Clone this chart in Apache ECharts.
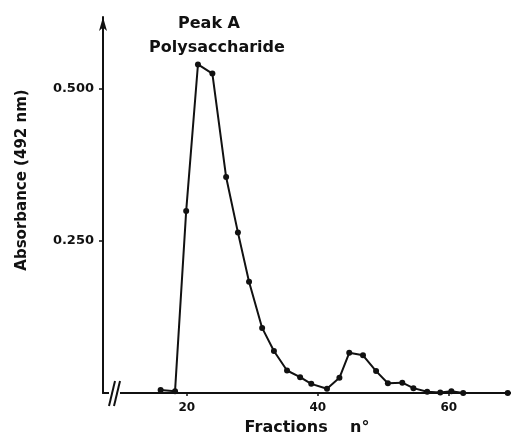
<!DOCTYPE html>
<html>
<head>
<meta charset="utf-8">
<script src="https://cdn.jsdelivr.net/npm/echarts@6/dist/echarts.min.js"></script>
<style>
  html, body { margin: 0; padding: 0; background: #fff; }
  #chart { width: 511px; height: 444px; }
</style>
</head>
<body>
<div id="chart"></div>
<script>
// fraction number and absorbance at 492 nm
var fractions = [16, 18.2, 19.9, 21.7, 23.9, 26, 27.8, 29.5, 31.5, 33.3, 35.3, 37.3, 39,
  41.4, 43.3, 44.8, 46.9, 48.9, 50.7, 52.9, 54.6, 56.7, 58.7, 60.4, 62.2, 69]
var absorbance = [0.005, 0.003, 0.299, 0.540, 0.525, 0.355, 0.264, 0.183, 0.107, 0.069, 0.037, 0.026, 0.015,
  0.007, 0.025, 0.066, 0.062, 0.036, 0.016, 0.017, 0.008, 0.002, 0.001, 0.003, 0.0, 0.0]
var xTicks = [20, 40, 60]
var yTicks = [0.25, 0.5]

var font = 'DejaVu Sans'
var ink = '#111'

var chart = echarts.init(document.getElementById('chart'))

chart.setOption({
  backgroundColor: '#fff',
  animation: false,
  grid: { left: 103, right: 0, top: 17, bottom: 51 },
  xAxis: {
    type: 'value',
    min: 7.2,
    max: 69.5,
    name: 'Fractions    n\u00b0',
    nameLocation: 'middle',
    nameGap: 27,
    nameTextStyle: { fontFamily: font, fontWeight: 'bold', fontSize: 16, color: ink },
    splitLine: { show: false },
    axisLine: { lineStyle: { color: ink, width: 2 } },
    axisTick: { customValues: xTicks, length: 3, lineStyle: { color: ink, width: 1.5 } },
    axisLabel: {
      customValues: xTicks,
      margin: 9,
      fontFamily: font, fontWeight: 'bold', fontSize: 12, color: ink
    }
  },
  yAxis: {
    type: 'value',
    min: 0,
    max: 0.618,
    splitLine: { show: false },
    axisLine: {
      show: true,
      symbol: ['none', 'arrow'],
      symbolSize: [6, 14],
      lineStyle: { color: ink, width: 2 }
    },
    axisTick: { show: true, customValues: yTicks, length: 4, lineStyle: { color: ink, width: 1.5 } },
    axisLabel: {
      customValues: yTicks,
      margin: 9,
      fontFamily: font, fontWeight: 'bold', fontSize: 13, color: ink,
      formatter: function (v) { return v.toFixed(3) }
    }
  },
  graphic: [
    {
      type: 'text',
      rotation: Math.PI / 2,
      x: 22, y: 180,
      style: {
        text: 'Absorbance (492 nm)',
        font: 'bold 15px ' + font,
        fill: ink,
        align: 'center',
        verticalAlign: 'middle'
      }
    },
    {
      type: 'text',
      x: 209, y: 24,
      style: { text: 'Peak A', font: 'bold 16px ' + font, fill: ink, align: 'center', verticalAlign: 'middle' }
    },
    {
      type: 'text',
      x: 217, y: 48,
      style: { text: 'Polysaccharide', font: 'bold 16px ' + font, fill: ink, align: 'center', verticalAlign: 'middle' }
    },
    // axis break mark
    {
      type: 'rect', z: 100,
      shape: { x: 109, y: 389, width: 11, height: 8 },
      style: { fill: '#fff' }
    },
    {
      type: 'line', z: 101,
      shape: { x1: 109, y1: 406, x2: 115, y2: 381 },
      style: { stroke: ink, lineWidth: 2 }
    },
    {
      type: 'line', z: 101,
      shape: { x1: 114, y1: 406, x2: 120, y2: 381 },
      style: { stroke: ink, lineWidth: 2 }
    }
  ],
  series: [
    {
      type: 'line',
      data: fractions.map(function (f, i) { return [f, absorbance[i]] }),
      symbol: 'circle',
      symbolSize: 6,
      itemStyle: { color: ink },
      lineStyle: { color: ink, width: 2 },
      z: 5
    }
  ]
})
</script>
</body>
</html>
